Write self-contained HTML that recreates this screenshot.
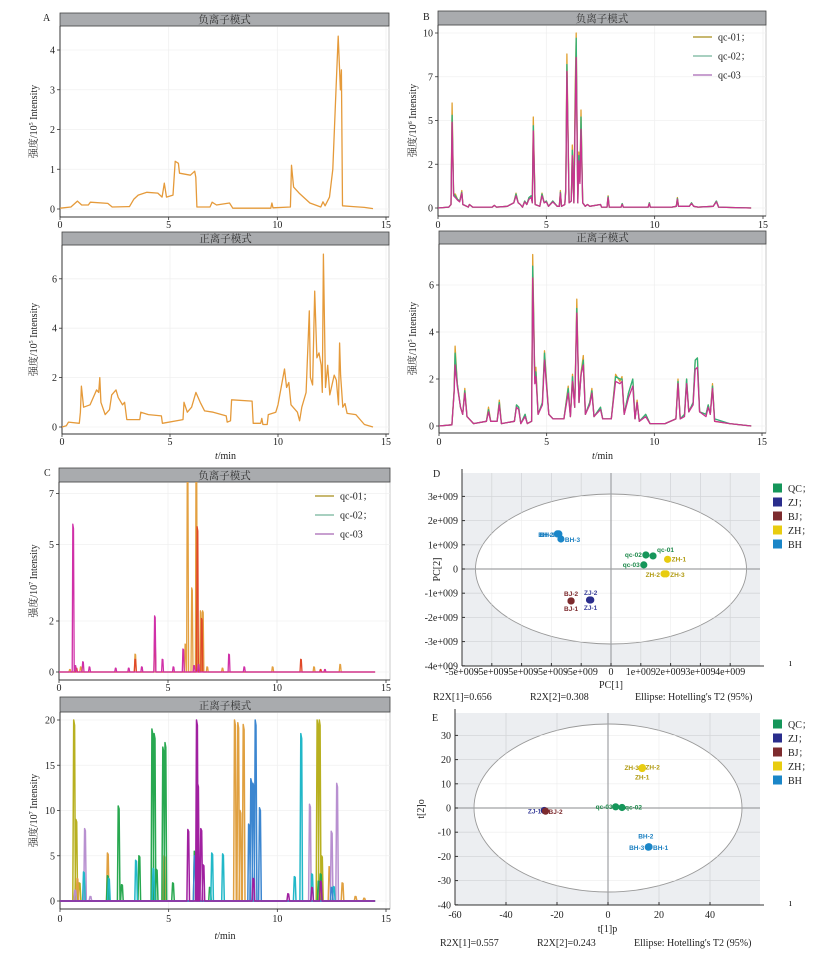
<!DOCTYPE html>
<html><head><meta charset="utf-8">
<style>
html,body{margin:0;padding:0;background:#fff;}
svg{display:block;font-family:"Liberation Serif","Noto Serif CJK SC",serif;}
.tk{font-size:10px;fill:#222;}
.hd{font-size:10.5px;fill:#333;font-family:"Liberation Serif","Noto Serif CJK SC",serif;}
.sm{font-size:6.5px;font-family:"Liberation Sans",sans-serif;font-weight:bold;}
</style></head>
<body>
<svg id="fig" width="833" height="955" viewBox="0 0 833 955" xmlns="http://www.w3.org/2000/svg"></svg>
<script>
// ---------- DATA ----------
const A1_neg=[[0,0.02],[0.5,0.05],[0.8,0.2],[1.0,0.1],[1.3,0.1],[1.4,0.17],[2.2,0.14],[2.4,0.05],[3.2,0.06],[3.4,0.25],[3.6,0.35],[4.0,0.42],[4.5,0.4],[4.7,0.3],[4.8,0.65],[4.9,0.3],[5.2,0.35],[5.3,1.2],[5.45,1.15],[5.5,0.9],[6.0,0.85],[6.2,0.95],[6.25,0.8],[6.3,0.05],[6.9,0.05],[7.0,0.17],[7.2,0.1],[7.8,0.15],[7.95,0.02],[9.7,0.02],[9.75,0.15],[9.8,0.03],[10.6,0.05],[10.65,1.1],[10.75,0.55],[11.0,0.4],[11.5,0.15],[12.0,0.05],[12.1,0.18],[12.2,0.08],[12.4,0.3],[12.55,1.0],[12.7,3.0],[12.8,4.35],[12.9,3.0],[12.95,3.5],[13.0,0.08],[13.5,0.06],[14,0.04],[14.4,0.01]];
const A2_pos=[[0,0],[0.2,0.05],[0.3,0.2],[0.8,0.15],[0.85,0.6],[0.9,1.65],[1.0,0.8],[1.3,0.9],[1.6,1.5],[1.7,1.4],[1.75,2.0],[1.8,1.0],[2.0,0.5],[2.2,0.7],[2.3,1.3],[2.5,1.5],[2.6,1.2],[2.8,0.9],[2.9,1.0],[3.0,0.3],[3.6,0.3],[3.65,0.6],[4.0,0.5],[4.6,0.45],[4.65,0.15],[5.6,0.3],[5.65,1.0],[5.8,0.6],[6.0,0.8],[6.2,1.4],[6.4,1.0],[6.6,0.65],[7.0,0.6],[7.6,0.45],[7.65,0.2],[7.8,0.25],[7.85,1.1],[8.8,1.05],[8.85,0.15],[9.2,0.15],[9.25,0.35],[9.3,0.1],[9.5,0.1],[9.55,0.5],[9.9,0.6],[10.0,0.9],[10.3,2.35],[10.4,1.6],[10.5,1.8],[10.6,0.9],[10.9,0.6],[11.0,0.25],[11.1,0.8],[11.3,1.4],[11.45,4.7],[11.5,2.0],[11.6,1.7],[11.7,5.5],[11.8,2.8],[11.9,3.0],[12.0,2.5],[12.05,1.4],[12.1,7.0],[12.2,1.6],[12.3,2.5],[12.4,1.3],[12.6,2.1],[12.7,1.9],[12.8,0.9],[12.85,3.4],[12.9,2.1],[13.0,0.8],[13.1,0.95],[13.2,0.55],[13.6,0.5],[14.0,0.1],[14.4,0]];
const B1_qc01=[[0,0],[0.5,0.05],[0.6,0.2],[0.65,6.0],[0.72,0.8],[0.8,0.8],[0.9,0.5],[1.0,0.4],[1.1,1.0],[1.15,0.2],[1.4,0.05],[1.45,0.2],[1.6,0.05],[2.5,0.05],[2.6,0.15],[2.7,0.05],[3.2,0.1],[3.5,0.3],[3.6,0.85],[3.7,0.3],[3.8,0.2],[3.9,0.05],[4.0,0.4],[4.1,0.2],[4.2,0.6],[4.3,0.7],[4.35,0.3],[4.4,5.2],[4.48,0.2],[4.7,0.1],[4.8,0.85],[4.9,0.3],[5.0,0.4],[5.1,0.1],[5.3,0.4],[5.5,0.1],[5.6,0.1],[5.65,1.0],[5.7,0.1],[5.85,0.2],[5.9,1.2],[5.95,8.8],[6.05,0.3],[6.15,0.4],[6.2,3.6],[6.27,0.3],[6.33,6.5],[6.38,10.0],[6.45,0.3],[6.5,3.2],[6.55,1.5],[6.6,5.6],[6.68,0.3],[6.8,0.1],[6.9,0.2],[7.0,0.1],[7.5,0.2],[7.55,0.05],[7.8,0.05],[7.85,0.7],[7.9,0.05],[8.45,0.05],[8.5,0.25],[8.55,0.05],[9.7,0.05],[9.75,0.3],[9.8,0.05],[10.8,0.05],[11.0,0.1],[11.05,0.6],[11.1,0.1],[11.6,0.1],[11.7,0.3],[11.8,0.1],[12.0,0.05],[12.7,0.1],[12.85,0.4],[12.95,0.05],[13.5,0.03],[14.45,0]];
const B1_qc02=[[0,0],[0.5,0.05],[0.6,0.2],[0.65,5.3],[0.72,0.8],[0.8,0.7],[0.9,0.5],[1.0,0.4],[1.1,0.9],[1.15,0.2],[1.4,0.05],[1.45,0.2],[1.6,0.05],[2.5,0.05],[2.6,0.15],[2.7,0.05],[3.2,0.1],[3.5,0.3],[3.6,0.8],[3.7,0.3],[3.8,0.2],[3.9,0.05],[4.0,0.4],[4.1,0.2],[4.2,0.6],[4.3,0.7],[4.35,0.3],[4.4,4.7],[4.48,0.2],[4.7,0.1],[4.8,0.8],[4.9,0.3],[5.0,0.4],[5.1,0.1],[5.3,0.4],[5.5,0.1],[5.6,0.1],[5.65,0.9],[5.7,0.1],[5.85,0.2],[5.9,1.1],[5.95,8.2],[6.05,0.3],[6.15,0.4],[6.2,3.3],[6.27,0.3],[6.33,5.5],[6.38,9.7],[6.45,0.3],[6.5,3.0],[6.55,1.5],[6.6,5.2],[6.68,0.3],[6.8,0.1],[6.9,0.2],[7.0,0.1],[7.5,0.2],[7.55,0.05],[7.8,0.05],[7.85,0.65],[7.9,0.05],[8.45,0.05],[8.5,0.25],[8.55,0.05],[9.7,0.05],[9.75,0.3],[9.8,0.05],[10.8,0.05],[11.0,0.1],[11.05,0.55],[11.1,0.1],[11.6,0.1],[11.7,0.3],[11.8,0.1],[12.0,0.05],[12.7,0.1],[12.85,0.4],[12.95,0.05],[13.5,0.03],[14.45,0]];
const B1_qc03=[[0,0],[0.5,0.05],[0.6,0.2],[0.65,4.9],[0.72,0.7],[0.8,0.6],[0.9,0.45],[1.0,0.35],[1.1,0.85],[1.15,0.2],[1.4,0.05],[1.45,0.2],[1.6,0.05],[2.5,0.05],[2.6,0.15],[2.7,0.05],[3.2,0.1],[3.5,0.3],[3.6,0.7],[3.7,0.3],[3.8,0.2],[3.9,0.05],[4.0,0.35],[4.1,0.2],[4.2,0.5],[4.3,0.6],[4.35,0.3],[4.4,4.4],[4.48,0.2],[4.7,0.1],[4.8,0.7],[4.9,0.3],[5.0,0.35],[5.1,0.1],[5.3,0.35],[5.5,0.1],[5.6,0.1],[5.65,0.85],[5.7,0.1],[5.85,0.2],[5.9,1.0],[5.95,7.8],[6.05,0.3],[6.15,0.4],[6.2,3.0],[6.27,0.3],[6.33,5.0],[6.38,8.6],[6.45,0.3],[6.5,2.7],[6.55,1.4],[6.6,4.5],[6.68,0.3],[6.8,0.1],[6.9,0.2],[7.0,0.1],[7.5,0.2],[7.55,0.05],[7.8,0.05],[7.85,0.6],[7.9,0.05],[8.45,0.05],[8.5,0.2],[8.55,0.05],[9.7,0.05],[9.75,0.25],[9.8,0.05],[10.8,0.05],[11.0,0.1],[11.05,0.5],[11.1,0.1],[11.6,0.1],[11.7,0.25],[11.8,0.1],[12.0,0.05],[12.7,0.1],[12.85,0.35],[12.95,0.05],[13.5,0.03],[14.45,0]];
const B2_qc01=[[0,0],[0.6,0.05],[0.7,1.5],[0.75,3.4],[0.85,1.8],[1.0,0.8],[1.1,0.5],[1.2,1.6],[1.3,0.4],[1.6,0.1],[2.2,0.2],[2.3,0.8],[2.4,0.2],[2.7,0.2],[2.8,1.1],[2.9,0.1],[3.5,0.2],[3.6,0.9],[3.7,0.8],[3.8,0.1],[4.0,0.5],[4.1,0.1],[4.3,0.2],[4.35,7.3],[4.45,2.0],[4.5,2.5],[4.6,0.5],[4.8,1.0],[4.9,3.2],[5.0,1.8],[5.1,0.5],[5.3,0.3],[5.8,0.3],[6.0,1.7],[6.1,0.4],[6.2,2.2],[6.3,0.8],[6.4,5.4],[6.5,1.0],[6.6,2.3],[6.7,3.0],[6.8,0.5],[7.0,1.0],[7.1,1.6],[7.2,0.4],[7.5,0.8],[7.6,0.3],[8.0,0.3],[8.2,2.2],[8.4,1.9],[8.5,2.1],[8.6,0.5],[8.8,1.4],[9.0,2.0],[9.1,0.3],[9.2,1.1],[9.3,0.2],[9.6,0.5],[9.8,0.1],[10.5,0.1],[11.0,0.3],[11.1,2.0],[11.2,0.3],[11.4,0.5],[11.5,2.0],[11.6,0.6],[11.8,1.0],[11.9,2.8],[12.0,2.9],[12.1,0.6],[12.4,0.5],[12.5,0.9],[12.6,0.5],[12.7,1.8],[12.8,0.2],[13.5,0.1],[14.5,0]];
const B2_qc02=[[0,0],[0.6,0.05],[0.7,1.5],[0.75,3.1],[0.85,1.8],[1.0,0.8],[1.1,0.5],[1.2,1.5],[1.3,0.4],[1.6,0.1],[2.2,0.2],[2.3,0.7],[2.4,0.2],[2.7,0.2],[2.8,1.0],[2.9,0.1],[3.5,0.2],[3.6,0.9],[3.7,0.8],[3.8,0.1],[4.0,0.5],[4.1,0.1],[4.3,0.2],[4.35,6.8],[4.45,2.0],[4.5,2.3],[4.6,0.5],[4.8,1.0],[4.9,3.1],[5.0,1.7],[5.1,0.5],[5.3,0.3],[5.8,0.3],[6.0,1.6],[6.1,0.4],[6.2,2.1],[6.3,0.8],[6.4,5.0],[6.5,1.0],[6.6,2.2],[6.7,2.8],[6.8,0.5],[7.0,1.0],[7.1,1.5],[7.2,0.4],[7.5,0.8],[7.6,0.3],[8.0,0.3],[8.2,2.1],[8.4,2.0],[8.5,2.0],[8.6,0.5],[8.8,1.4],[9.0,2.0],[9.1,0.3],[9.2,1.0],[9.3,0.2],[9.6,0.5],[9.8,0.1],[10.5,0.1],[11.0,0.3],[11.1,1.9],[11.2,0.3],[11.4,0.5],[11.5,2.0],[11.6,0.6],[11.8,1.0],[11.9,2.8],[12.0,2.9],[12.1,0.6],[12.4,0.5],[12.5,0.9],[12.6,0.5],[12.7,1.7],[12.8,0.3],[13.5,0.1],[14.5,0]];
const B2_qc03=[[0,0],[0.6,0.05],[0.7,1.4],[0.75,2.6],[0.85,1.7],[1.0,0.8],[1.1,0.5],[1.2,1.4],[1.3,0.4],[1.6,0.1],[2.2,0.2],[2.3,0.6],[2.4,0.2],[2.7,0.2],[2.8,0.9],[2.9,0.1],[3.5,0.2],[3.6,0.8],[3.7,0.7],[3.8,0.1],[4.0,0.4],[4.1,0.1],[4.3,0.2],[4.35,6.3],[4.45,1.8],[4.5,2.1],[4.6,0.5],[4.8,0.9],[4.9,2.8],[5.0,1.6],[5.1,0.5],[5.3,0.3],[5.8,0.3],[6.0,1.4],[6.1,0.4],[6.2,1.9],[6.3,0.8],[6.4,4.8],[6.5,1.0],[6.6,2.2],[6.7,2.6],[6.8,0.5],[7.0,0.9],[7.1,1.4],[7.2,0.4],[7.5,0.7],[7.6,0.3],[8.0,0.3],[8.2,1.9],[8.4,1.8],[8.5,1.9],[8.6,0.5],[8.8,1.2],[9.0,1.7],[9.1,0.3],[9.2,1.0],[9.3,0.2],[9.6,0.4],[9.8,0.1],[10.5,0.1],[11.0,0.3],[11.1,1.8],[11.2,0.3],[11.4,0.4],[11.5,1.8],[11.6,0.6],[11.8,0.9],[11.9,2.4],[12.0,2.5],[12.1,0.6],[12.4,0.4],[12.5,0.8],[12.6,0.5],[12.7,1.6],[12.8,0.2],[13.5,0.1],[14.5,0]];
// C panels: spike lists [time, height]
const C1_qc01=[[0.5,0.1],[1.0,0.2],[3.5,0.7],[5.8,1.1],[5.9,8.5],[6.1,3.3],[6.3,8.6],[6.5,2.4],[6.6,2.4],[6.8,0.2],[7.5,0.15],[9.8,0.2],[11.7,0.2],[12.9,0.3]];
const C1_qc02=[[0.8,0.15],[3.5,0.5],[4.4,1.3],[6.35,5.7],[6.55,2.1],[11.1,0.5],[12.0,0.1]];
const C1_qc03=[[0.65,5.8],[0.75,0.25],[1.1,0.4],[1.4,0.2],[2.6,0.15],[3.2,0.15],[3.8,0.2],[4.4,2.2],[4.75,0.5],[5.25,0.2],[5.7,0.9],[6.2,0.25],[6.4,0.3],[7.8,0.7],[8.5,0.2],[12.2,0.1]];
const C2_olive=[[0.65,20],[0.75,9],[0.9,2],[11.85,20],[11.95,20],[12.05,5]];
const C2_orange=[[0.8,2.5],[2.2,5.3],[4.8,5],[8.05,20],[8.2,19.7],[8.3,10],[8.45,19.5],[12.4,3.8],[13.0,2],[13.6,0.5],[14.0,0.3]];
const C2_green=[[2.2,2.8],[2.7,10.5],[2.85,1.8],[3.65,5],[4.25,19],[4.35,18.5],[4.45,3.5],[4.75,17],[4.85,17.5],[5.2,2],[6.2,5.5],[6.9,1.5],[11.9,2.2],[12.0,3]];
const C2_purple=[[5.9,7.9],[6.3,20],[6.35,13],[6.5,8],[6.6,4],[8.9,2.5],[10.5,0.8],[11.6,1.5],[12.0,2.2]];
const C2_lavender=[[0.7,1.2],[1.15,8],[1.4,0.5],[11.5,10.7],[12.5,7.7],[12.75,13]];
const C2_cyan=[[1.1,3.2],[2.25,2.5],[3.5,4.5],[4.3,3.6],[7.0,5.3],[7.5,5.2],[10.8,2.7],[11.1,18.5],[11.6,3],[12.6,1.6]];
const C2_blue=[[8.7,8.5],[8.8,13.5],[8.9,13],[9.0,20],[9.2,10.3],[6.2,5],[12.5,1.5]];
// PCA (D): scores in units of 1e9
const pcaDNames=["BH-1","BH-2","BH-3","qc-01","qc-02","qc-03","ZH-1","ZH-2","ZH-3","BJ-1","BJ-2","ZJ-1","ZJ-2"];
const pcaDX=[-1.75,-1.8,-1.68,1.41,1.17,1.1,1.9,1.78,1.85,-1.34,-1.34,-0.72,-0.68];
const pcaDY=[1.45,1.45,1.24,0.54,0.58,0.17,0.4,-0.2,-0.2,-1.32,-1.32,-1.28,-1.28];
const pcaDGroup=["BH","BH","BH","QC","QC","QC","ZH","ZH","ZH","BJ","BJ","ZJ","ZJ"];
const dYTicks=[3,2,1,0,-1,-2,-3,-4];
const dYTickLabels=["3e+009","2e+009","1e+009","0","-1e+009","-2e+009","-3e+009","-4e+009"];
const dXTicks=[-5,-4,-3,-2,-1,0,1,2,3,4];
const dXTickLabels=["-5e+009","-5e+009","-5e+009","-5e+009","-5e+009","0","1e+009","2e+009","3e+009","4e+009"];
// OPLS-DA (E)
const plsNames=["ZJ-1","BJ-2","qc-03","qc-02","ZH-3","ZH-2","ZH-1","BH-2","BH-3","BH-1"];
const plsX=[-25,-24.5,3,5.5,13.3,13.5,13.4,16,15.8,16.1];
const plsY=[-1,-1.3,0.5,0.2,16.5,16.7,16.3,-16,-16.2,-16.1];
const plsGroup=["ZJ","BJ","QC","QC","ZH","ZH","ZH","BH","BH","BH"];
const eYTicks=[30,20,10,0,-10,-20,-30,-40];
const eXTicks=[-60,-40,-20,0,20,40];
const groups=["QC","ZJ","BJ","ZH","BH"];
const groupColors={QC:"#15965a",ZJ:"#2a2d8c",BJ:"#7d2b2e",ZH:"#e8cc10",BH:"#1a86c8"};
const groupText={QC:"#1f8a4c",ZJ:"#3a3f9a",BJ:"#7d2b2e",ZH:"#b09a10",BH:"#1a7fc0"};

// ---------- DRAWING ----------
const NS="http://www.w3.org/2000/svg";
const svg=document.getElementById('fig');
function el(tag,attrs,parent,text){const e=document.createElementNS(NS,tag);for(const k in attrs)e.setAttribute(k,attrs[k]);if(text!==undefined)e.textContent=text;(parent||svg).appendChild(e);return e;}

function chromPanel(cfg){
  const g=el('g',{});
  
  
  const fx=t=>cfg.x0+t*(cfg.x15-cfg.x0)/15;
  const fy=v=>cfg.y0-v*cfg.ppu;
  const fr=el('rect',{x:cfg.fl,y:cfg.ht+cfg.hh,width:cfg.fr-cfg.fl,height:cfg.fb-cfg.ht-cfg.hh,fill:'#fff',stroke:'#bbb','stroke-width':0.8},g);
  
  
  cfg.yt.forEach(v=>el('line',{x1:cfg.fl,x2:cfg.fr,y1:fy(v),y2:fy(v),stroke:'#f0f0f0','stroke-width':0.8},g));
  [0,5,10,15].forEach(t=>el('line',{x1:fx(t),x2:fx(t),y1:cfg.ht+cfg.hh,y2:cfg.fb,stroke:'#f0f0f0','stroke-width':0.8},g));
  const hr=el('rect',{x:cfg.fl,y:cfg.ht,width:cfg.fr-cfg.fl,height:cfg.hh,fill:'#a9abae',stroke:'#444','stroke-width':0.8},g);
  
  
  const ht=el('text',{x:(cfg.fl+cfg.fr)/2,y:cfg.ht+cfg.hh-3,'text-anchor':'middle',class:'hd'},g,cfg.title);
  
  
  el('line',{x1:cfg.fl,x2:cfg.fl,y1:cfg.ht+cfg.hh,y2:cfg.fb,stroke:'#333','stroke-width':1},g);
  el('line',{x1:cfg.fl,x2:cfg.fr,y1:cfg.fb,y2:cfg.fb,stroke:'#333','stroke-width':1},g);
  cfg.yt.forEach((v,i)=>{
    el('line',{x1:cfg.fl-3,x2:cfg.fl,y1:fy(v),y2:fy(v),stroke:'#333','stroke-width':0.8},g);
    const t=el('text',{x:cfg.fl-5,y:fy(v)+3.5,'text-anchor':'end',class:'tk'},g,cfg.ytl[i]);
    
    
  });
  [0,5,10,15].forEach(tv=>{
    el('line',{x1:fx(tv),x2:fx(tv),y1:cfg.fb,y2:cfg.fb+3,stroke:'#333','stroke-width':0.8},g);
    const t=el('text',{x:fx(tv),y:cfg.xl,'text-anchor':'middle',class:'tk'},g,String(tv));
    
    
  });
  if(cfg.xt){
    const t=el('text',{x:(cfg.fl+cfg.fr)/2,y:cfg.xt,'text-anchor':'middle',class:'tk'},g);
    
    
    el('tspan',{'font-style':'italic'},t,'t');el('tspan',{},t,'/min');
  }
  const cy=(cfg.ht+cfg.hh+cfg.fb)/2;
  const yt=el('text',{x:cfg.ytx,y:cy,'text-anchor':'middle',class:'tk',transform:`rotate(-90 ${cfg.ytx} ${cy})`},g);
  
  
  el('tspan',{},yt,'强度/10');el('tspan',{'font-size':'6px',dy:'-4'},yt,cfg.exp);el('tspan',{dy:'4'},yt,' Intensity');
  const clip='c'+cfg.name;
  const cp=el('clipPath',{id:clip},g);el('rect',{x:cfg.fl,y:cfg.ht+cfg.hh,width:cfg.fr-cfg.fl,height:cfg.fb-cfg.ht-cfg.hh},cp);
  cfg.series.forEach(s=>{
    let pts=s.pts;
    if(s.spikes){const hw=cfg.hw||0.035;pts=[[0,0]];s.spikes.slice().sort((a,b)=>a[0]-b[0]).forEach(p=>{pts.push([p[0]-hw,0],[p[0]-hw/3,p[1]],[p[0]+hw/3,p[1]*0.97],[p[0]+hw,0]);});pts.push([14.5,0]);}
    const d=pts.map((p,i)=>(i?'L':'M')+fx(p[0]).toFixed(1)+','+fy(p[1]).toFixed(1)).join(' ');
    const pe=el('path',{d:d,fill:'none',stroke:s.color,'stroke-width':s.w||1.2,'stroke-linejoin':'round','clip-path':`url(#${clip})`},g);
    
    
  });
  if(cfg.legend){
    cfg.legend.forEach((L,i)=>{
      const y=cfg.legend.y0+i*cfg.legend.dy;
      const lg=el('g',{},g);
      
      
      el('line',{x1:cfg.legend.x,x2:cfg.legend.x+19,y1:y,y2:y,stroke:L.c,'stroke-width':2},lg);
      el('text',{x:cfg.legend.x+25,y:y+3.5,class:'tk','font-size':'10.5px'},lg,L.t);
    });
  }
}
function leg(x,y0,dy){const a=[{t:'qc-01；',c:'#c8b870'},{t:'qc-02；',c:'#a8d0c0'},{t:'qc-03',c:'#c8a0d0'}];a.x=x;a.y0=y0;a.dy=dy;return a;}

chromPanel({name:'panel-a-negative',title:'负离子模式',x0:60,x15:386,y0:209,ppu:39.75,fl:60,fr:389,ht:13,hh:13,fb:217,yt:[0,1,2,3,4],ytl:['0','1','2','3','4'],xl:228,ytx:37,exp:'5',
  series:[{name:'series-negative',pts:A1_neg,color:'#e59a3a',w:1.3}]});
chromPanel({name:'panel-a-positive',title:'正离子模式',x0:62,x15:386,y0:427,ppu:24.7,fl:62,fr:389,ht:232,hh:13,fb:434,yt:[0,2,4,6],ytl:['0','2','4','6'],xl:445,xt:459,ytx:37,exp:'5',
  series:[{name:'series-positive',pts:A2_pos,color:'#e59a3a',w:1.3}]});
chromPanel({name:'panel-b-negative',title:'负离子模式',x0:438,x15:763,y0:208,ppu:17.5,fl:438,fr:766,ht:11,hh:14,fb:216,yt:[0,2.5,5,7.5,10],ytl:['0','2','5','7','10'],xl:228,ytx:416,exp:'6',
  series:[{name:'series-qc-01',pts:B1_qc01,color:'#e0a030',w:1.3},{name:'series-qc-02',pts:B1_qc02,color:'#2fb27a',w:1.3},{name:'series-qc-03',pts:B1_qc03,color:'#c8348e',w:1.3}],
  legend:leg(693,37,19)});
chromPanel({name:'panel-b-positive',title:'正离子模式',x0:439,x15:762,y0:426,ppu:23.5,fl:439,fr:766,ht:231,hh:13,fb:433,yt:[0,2,4,6],ytl:['0','2','4','6'],xl:445,xt:459,ytx:416,exp:'5',
  series:[{name:'series-qc-01',pts:B2_qc01,color:'#e0a030',w:1.3},{name:'series-qc-02',pts:B2_qc02,color:'#2fb27a',w:1.3},{name:'series-qc-03',pts:B2_qc03,color:'#c8348e',w:1.3}]});
chromPanel({name:'panel-c-negative',title:'负离子模式',x0:59,x15:386,y0:672,ppu:25.5,fl:59,fr:390,ht:468,hh:14,fb:680,yt:[0,2,5,7],ytl:['0','2','5','7'],xl:691,ytx:37,exp:'7',hw:0.045,
  series:[{name:'series-qc-01',spikes:C1_qc01,color:'#e3a040',w:1.3},{name:'series-qc-02',spikes:C1_qc02,color:'#e04828',w:1.3},{name:'series-qc-03',spikes:C1_qc03,color:'#d030a8',w:1.3}],
  legend:leg(315,496,19)});
chromPanel({name:'panel-c-positive',title:'正离子模式',x0:60,x15:386,y0:901,ppu:9.05,fl:60,fr:390,ht:697,hh:15,fb:909,yt:[0,5,10,15,20],ytl:['0','5','10','15','20'],xl:922,xt:939,ytx:37,exp:'7',hw:0.06,
  series:[{name:'series-olive',spikes:C2_olive,color:'#b8b020',w:1.5},{name:'series-orange',spikes:C2_orange,color:'#e0a040',w:1.5},{name:'series-green',spikes:C2_green,color:'#28a850',w:1.5},{name:'series-lavender',spikes:C2_lavender,color:'#b890d0',w:1.5},{name:'series-cyan',spikes:C2_cyan,color:'#22b8c8',w:1.5},{name:'series-blue',spikes:C2_blue,color:'#3c86d0',w:1.5},{name:'series-purple',spikes:C2_purple,color:'#a020a0',w:1.5}]});

[['A',43,21],['B',423,20],['C',44,476],['D',433,477],['E',432,721]].forEach(a=>{
  const t=el('text',{x:a[1],y:a[2],class:'tk'},svg,a[0]);
  
  
});

function scatterPanel(cfg){
  const g=el('g',{});
  
  
  const fx=v=>cfg.cx+v*cfg.sx, fy=v=>cfg.cy-v*cfg.sy;
  const bg=el('rect',{x:cfg.l,y:cfg.t,width:cfg.r-cfg.l,height:cfg.b-cfg.t,fill:'#eceef1'},g);
  
  
  cfg.xt.forEach(v=>el('line',{x1:fx(v),x2:fx(v),y1:cfg.t,y2:cfg.b,stroke:'#d4d6d9','stroke-width':0.8},g));
  cfg.yt.forEach(v=>el('line',{x1:cfg.l,x2:cfg.r,y1:fy(v),y2:fy(v),stroke:'#d4d6d9','stroke-width':0.8},g));
  const ell=el('ellipse',{cx:cfg.cx,cy:cfg.cy,rx:cfg.rx,ry:cfg.ry,fill:'#fff',stroke:'#999','stroke-width':0.9},g);
  
  
  const ecp='e'+cfg.name;const cp=el('clipPath',{id:ecp},g);el('ellipse',{cx:cfg.cx,cy:cfg.cy,rx:cfg.rx,ry:cfg.ry},cp);
  cfg.xt.forEach(v=>el('line',{x1:fx(v),x2:fx(v),y1:cfg.t,y2:cfg.b,stroke:'#ececec','stroke-width':0.6,'clip-path':`url(#${ecp})`},g));
  cfg.yt.forEach(v=>el('line',{x1:cfg.l,x2:cfg.r,y1:fy(v),y2:fy(v),stroke:'#ececec','stroke-width':0.6,'clip-path':`url(#${ecp})`},g));
  el('line',{x1:fx(0),x2:fx(0),y1:cfg.t,y2:cfg.b,stroke:'#a0a2a5','stroke-width':1.2},g);
  el('line',{x1:cfg.l,x2:cfg.r,y1:fy(0),y2:fy(0),stroke:'#a0a2a5','stroke-width':1.2},g);
  el('line',{x1:cfg.l,x2:cfg.l,y1:cfg.t-4,y2:cfg.b,stroke:'#333','stroke-width':1},g);
  el('line',{x1:cfg.l,x2:cfg.r+4,y1:cfg.b,y2:cfg.b,stroke:'#333','stroke-width':1},g);
  cfg.yt.forEach((v,i)=>{el('line',{x1:cfg.l,x2:cfg.l+3,y1:fy(v),y2:fy(v),stroke:'#333'},g);
    const t=el('text',{x:cfg.l-4,y:fy(v)+3.5,'text-anchor':'end',class:'tk'},g,cfg.ytl[i]);
    
    });
  cfg.xt.forEach((v,i)=>{el('line',{x1:fx(v),x2:fx(v),y1:cfg.b-3,y2:cfg.b,stroke:'#333'},g);
    const t=el('text',{x:fx(v),y:cfg.xly,'text-anchor':'middle',class:'tk','font-size':cfg.xfs},g,cfg.xtl[i]);
    
    });
  const xt=el('text',{x:(cfg.l+cfg.r)/2,y:cfg.xty,'text-anchor':'middle',class:'tk','font-size':'11px'},g,cfg.xtitle);
  
  
  const yy=(cfg.t+cfg.b)/2;
  const yt=el('text',{x:cfg.ytx,y:yy,'text-anchor':'middle',class:'tk','font-size':'11px',transform:`rotate(-90 ${cfg.ytx} ${yy})`},g,cfg.ytitle);
  
  
  cfg.names.forEach((n,i)=>{
    const c=el('circle',{cx:fx(cfg.X[i]),cy:fy(cfg.Y[i]),r:3.6,fill:groupColors[cfg.G[i]]},g);
    
    
    const o=cfg.lab[n];
    const t=el('text',{x:fx(cfg.X[i])+o[0],y:fy(cfg.Y[i])+o[1],'text-anchor':o[2],class:'sm',fill:groupText[cfg.G[i]]},g,n);
    
    
  });
  groups.forEach((gname,i)=>{
    const lg=el('g',{},g);
    
    
    el('rect',{x:773,y:cfg.legY+i*14-4.5,width:9,height:9,fill:groupColors[gname]},lg);
    el('text',{x:788,y:cfg.legY+i*14+4,class:'tk','font-size':'11px'},lg,gname+(gname==='BH'?'':'；'));
  });
  el('text',{x:789,y:cfg.tickMarkY,class:'tk','font-size':'8px'},g,'ı');
  cfg.r2.forEach(r=>{const t=el('text',{x:r[0],y:cfg.r2y,class:'tk','font-size':'10px'},g,r[1]);
    
    });
}
scatterPanel({name:'panel-d-pca',l:462,r:760,t:473,b:666,cx:611,cy:569,sx:29.8,sy:24.2,rx:135.5,ry:75,
  xt:dXTicks,xtl:dXTickLabels,yt:dYTicks,ytl:dYTickLabels,xly:675,xfs:'7.5px',xty:688,xtitle:'PC[1]',ytx:440,ytitle:'PC[2]',
  names:pcaDNames,X:pcaDX,Y:pcaDY,G:pcaDGroup,legY:488,tickMarkY:666,r2y:700,
  r2:[[433,'R2X[1]=0.656'],[530,'R2X[2]=0.308'],[635,"Ellipse: Hotelling's T2 (95%)"]],
  lab:{'BH-1':[-4,3,'end'],'BH-2':[-4,3,'end'],'BH-3':[4,3,'start'],'qc-01':[4,-4,'start'],'qc-02':[-4,2,'end'],'qc-03':[-4,2,'end'],'ZH-1':[4,2,'start'],'ZH-2':[-4,3,'end'],'ZH-3':[4,3,'start'],'BJ-1':[0,10,'middle'],'BJ-2':[0,-5,'middle'],'ZJ-1':[1,10,'middle'],'ZJ-2':[0,-5,'middle']}});
scatterPanel({name:'panel-e-oplsda',l:455,r:760,t:713,b:905,cx:608,cy:808,sx:2.55,sy:2.42,rx:134,ry:84,
  xt:eXTicks,xtl:eXTicks.map(String),yt:eYTicks,ytl:eYTicks.map(String),xly:918,xfs:'10px',xty:932,xtitle:'t[1]p',ytx:424,ytitle:'t[2]o',
  names:plsNames,X:plsX,Y:plsY,G:plsGroup,legY:724,tickMarkY:906,r2y:946,
  r2:[[440,'R2X[1]=0.557'],[537,'R2X[2]=0.243'],[634,"Ellipse: Hotelling's T2 (95%)"]],
  lab:{'ZJ-1':[-3,3,'end'],'BJ-2':[3,3,'start'],'qc-03':[-3,2,'end'],'qc-02':[3,2,'start'],'ZH-3':[-3,2,'end'],'ZH-2':[3,2,'start'],'ZH-1':[0,11,'middle'],'BH-2':[-3,-8,'middle'],'BH-3':[-4,3,'end'],'BH-1':[4,3,'start']}});
</script>
</body></html>
